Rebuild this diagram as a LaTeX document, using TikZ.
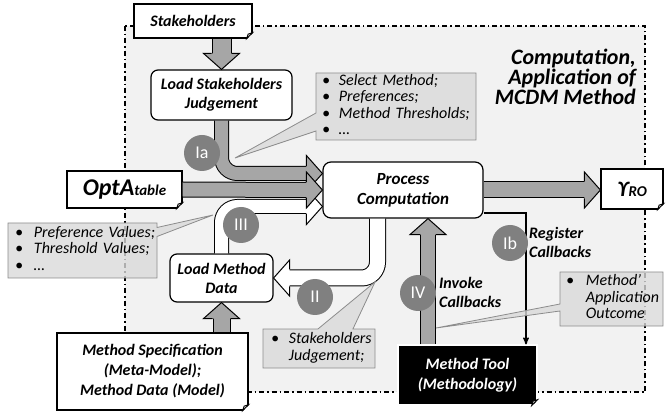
\documentclass[tikz,border=0pt]{standalone}
\usepackage{fontspec}
\setmainfont{Carlito}
\usetikzlibrary{%
  arrows,%
  calc,%
  shapes.callouts,% wg. rectangle callout
  positioning%
}

\definecolor{regionbg}{gray}{0.95}
\definecolor{shaftgray}{gray}{0.65}
\definecolor{discgray}{gray}{0.5}
\definecolor{infogray}{gray}{0.85}

\tikzset{
  box/.style={draw, line width=1.2pt, fill=white, rounded corners=7pt,
    align=center, inner sep=0pt,
    font=\fontsize{16}{19}\selectfont\bfseries\itshape},
  note/.style={draw, line width=1.2pt, fill=white, align=center, inner sep=0pt,
    font=\fontsize{16}{20}\selectfont\bfseries\itshape},
  shaft/.style={line width=1pt, double=#1, double distance=13pt},
  numdisc/.style={circle, fill=discgray, text=white, minimum size=36pt,
    inner sep=0pt, font=\fontsize{18}{18}\selectfont},
  infobox/.style={rectangle callout, draw=black!45, line width=0.8pt,
    fill=infogray, fill opacity=0.8, text opacity=1, inner ysep=0pt,
    align=left, font=\fontsize{16}{16.5}\selectfont\itshape},
  lbl/.style={align=left, inner sep=0pt,
    font=\fontsize{16}{19}\selectfont\bfseries\itshape},
}

% head of a block arrow: tip, rotation, fill, half shaft width
\newcommand\blockhead[4]{%
  \filldraw[fill=#3, line width=1pt, shift={(#1)}, rotate=#2]
    (-16,#4) -- (-16,18) -- (0,0) -- (-16,-18) -- (-16,-#4);}
% folded corner of a note: node, colour behind it
\newcommand\dogear[2]{%
  \fill[#2] ($(#1.south east)+(-6,1)$) -- ($(#1.south east)+(1,1)$)
    -- ($(#1.south east)+(1,-6)$) -- cycle;
  \filldraw[fill=black!20, line width=0.8pt] ($(#1.south east)+(-6,0)$)
    -- ($(#1.south east)+(0,-6)$) -- ($(#1.south east)+(-4.5,-4.5)$) -- cycle;}

\begin{document}
\begin{tikzpicture}[x=1pt, y=-1pt, >=stealth']
\useasboundingbox (0,0) rectangle (666,419);

% computation area
\draw[line width=1.2pt, fill=regionbg,
  dash pattern=on 5pt off 3pt on 1.5pt off 3pt] (125,26) rectangle (645,392);
\node[anchor=east, align=right, inner sep=0pt,
  font=\fontsize{22}{20}\selectfont\bfseries\itshape] (title) at (636,77)
  {Computation,\\Application of\\MCDM Method};

% nodes
\node[note, minimum width=118pt, minimum height=34pt] (stake) at (193,21) {Stakeholders};
\node[box, minimum width=141pt, minimum height=50pt] (lsj) at (221.5,95) {Load Stakeholders\\Judgement};
\node[box, rounded corners=8pt, minimum width=160pt, minimum height=56pt,
  font=\fontsize{17}{20}\selectfont\bfseries\itshape] (pc) at (403,190) {Process\\Computation};
\node[note, minimum width=115pt, minimum height=37pt] (opta) at (124.5,189.5)
  {{\fontsize{24}{24}\selectfont OptA}{\fontsize{15}{15}\selectfont table}};
\node[note, minimum width=62pt, minimum height=40pt] (yro) at (632,189)
  {{\fontsize{22}{22}\selectfont ϒ}{\fontsize{15}{15}\selectfont RO}};
\node[box, minimum width=103pt, minimum height=48pt] (lmd) at (221.5,278) {Load Method\\Data};
\node[note, minimum width=191pt, minimum height=77pt] (spec) at (152.5,371.5)
  {Method Specification\\(Meta-Model);\\Method Data (Model)};
\node[note, draw=white, fill=black, text=white, minimum width=139pt, minimum height=60pt]
  (tool) at (467.5,375) {Method Tool\\(Methodology)};

% block arrows
\draw[shaft=shaftgray, double distance=18pt] (lsj.north |- stake.south) -- ($(lsj.north)+(0,-15)$);
\blockhead{lsj.north}{-90}{shaftgray}{10}
\draw[shaft=shaftgray, rounded corners=16pt] (lsj.south) |- ($(pc.west)+(-15,-16.5)$);
\blockhead{$(pc.west)+(0,-16.5)$}{0}{shaftgray}{7.5}
\draw[shaft=white, rounded corners=16pt] (lmd.north) |- ($(pc.west)+(-15,16.5)$);
\blockhead{$(pc.west)+(0,16.5)$}{0}{white}{7.5}
\draw[shaft=shaftgray, double distance=14pt] (opta.east) -- ($(pc.west)+(-15,0)$);
\blockhead{pc.west}{0}{shaftgray}{8}
\draw[shaft=white, double distance=15pt, rounded corners=16pt]
  ($(pc.south)+(-25.5,0)$) |- ($(lmd.east)+(15,0)$);
\blockhead{lmd.east}{180}{white}{8.5}
\draw[shaft=shaftgray, double distance=16pt] (lmd.south |- spec.north) -- ($(lmd.south)+(0,15)$);
\blockhead{lmd.south}{90}{shaftgray}{9}
\coordinate (ivtip) at ($(pc.south)+(25,0)$);
\draw[shaft=shaftgray, double distance=14pt] (ivtip |- tool.north) -- ($(ivtip)+(0,15)$);
\blockhead{ivtip}{90}{shaftgray}{8}
\draw[shaft=shaftgray, double distance=15pt] (pc.east) -- ($(pc.east -| yro.west)+(-15,0)$);
\blockhead{pc.east -| yro.west}{0}{shaftgray}{8.5}

% callback registration
\draw[->, line width=1.4pt] ($(pc.east)+(0,23)$) -| ($(tool.north)+(58.5,0)$);

\dogear{stake}{regionbg}
\dogear{opta}{regionbg}
\dogear{yro}{white}
\dogear{spec}{white}
\dogear{tool}{white}

% steps
\node[numdisc] (sia) at (202,153) {Ia};
\node[numdisc] (sib) at (510,243) {Ib};
\node[numdisc] (sii) at (315,297) {II};
\node[numdisc] (siii) at (241,225) {III};
\node[numdisc] (siv) at (418,293) {IV};
\node[lbl, anchor=west] (regl) at (529,242) {Register\\Callbacks};
\node[lbl, anchor=west] (invl) at (439,292) {Invoke\\Callbacks};

% data passed along
\node[infobox, inner xsep=6pt, text width=148pt, minimum height=67pt, callout pointer width=18pt,
  callout absolute pointer={(235,158)}] (sel) at (396,106.5)
  {\begin{tabular}{@{}l@{\hspace{9pt}}l@{}}
   \textbullet & Select Method;\\ \textbullet & Preferences;\\
   \textbullet & Method Thresholds;\\ \textbullet & \dots
   \end{tabular}};
\node[infobox, inner xsep=7pt, text width=135pt, minimum height=55pt, callout pointer width=9pt,
  callout absolute pointer={(213,215)}] (pref) at (82.5,250.5)
  {\begin{tabular}{@{}l@{\hspace{11pt}}l@{}}
   \textbullet & Preference Values;\\ \textbullet & Threshold Values;\\
   \textbullet & \dots
   \end{tabular}};
\node[infobox, inner xsep=8pt, text width=96pt, minimum height=39pt, callout pointer width=35pt,
  callout absolute pointer={(375,282)}] (judg) at (319,348.5)
  {\begin{tabular}{@{}l@{\hspace{10pt}}l@{}}
   \textbullet & Stakeholders\\ & Judgement;
   \end{tabular}};
\node[infobox, inner xsep=6pt, text width=91pt, minimum height=54pt, callout pointer width=7pt,
  callout absolute pointer={(436,328)}] (outc) at (611.5,299)
  {\begin{tabular}{@{}l@{\hspace{12pt}}l@{}}
   \textbullet & Method’\\ & Application\\ & Outcome
   \end{tabular}};

\end{tikzpicture}
\end{document}
